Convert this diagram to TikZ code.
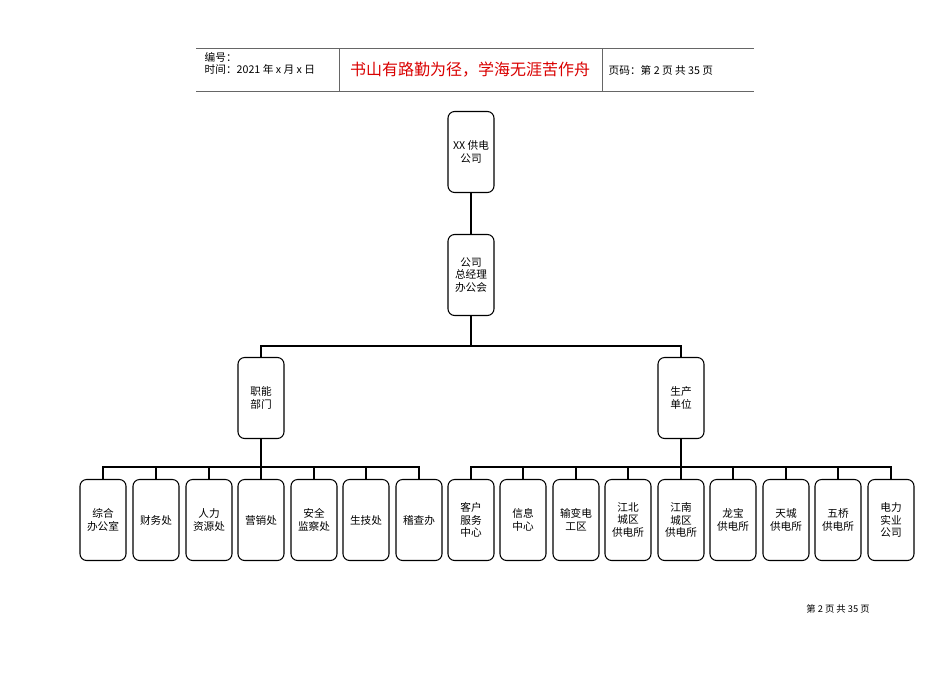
\documentclass[tikz,border=0pt]{standalone}
\usepackage{fontspec}
\setmainfont{Noto Sans CJK SC}
\begin{document}
\begin{tikzpicture}[x=1pt,y=-1pt,
  unit/.style={draw, rounded corners=5pt, minimum width=34.5pt, minimum height=60.75pt,
    inner sep=1pt, align=center, font=\fontsize{8}{9.5}\selectfont, thick},
  link/.style={line width=1.5pt}]
  \useasboundingbox (0,0) rectangle (712.5,504);
  % header
  \draw[gray!80!black] (147,36) -- (565.5,36) (147,68.25) -- (565.5,68.25)
    (254.25,36) -- (254.25,68.25) (451.5,36) -- (451.5,68.25);
  \node[anchor=west, font=\fontsize{8}{9.5}\selectfont, align=left] (bh) at (150,47.5) {编号：\\时间：2021 年 x 月 x 日};
  \node[font=\fontsize{12}{14}\selectfont, text=red!85!black] (motto) at (352.5,52.5) {书山有路勤为径，学海无涯苦作舟};
  \node[anchor=west, font=\fontsize{8}{9.5}\selectfont] (pg) at (453,52.5) {页码：第 2 页 共 35 页};
  \node[font=\fontsize{7}{8}\selectfont] (foot) at (628.5,456.75) {第 2 页 共 35 页};
  % tree
  \node[unit] (top) at (353.25,114) {XX 供电\\公司};
  \node[unit] (gm) at (353.25,206.25) {公司\\总经理\\办公会};
  \node[unit] (zn) at (195.75,298.5) {职能\\部门};
  \node[unit] (sc) at (510.75,298.5) {生产\\单位};
  \draw[link] (top) -- (gm);
  \coordinate (bus) at (353.25,259.5);
  \draw[link] (gm) -- (bus) -| (zn);
  \draw[link] (bus) -| (sc);
  \foreach \name/\x/\txt in {a/77.25/综合\\办公室, b/117/财务处, c/156.75/人力\\资源处,
      d/195.75/营销处, e/235.5/安全\\监察处, f/274.5/生技处, g/314.25/稽查办}{
    \node[unit] (\name) at (\x,390) {\txt};
    \draw[link] (zn.south) -- (195.75,350.25) -| (\name.north);
  }
  \foreach \name/\x/\txt in {h/353.25/客户\\服务\\中心, i/392.25/信息\\中心, j/432/输变电\\工区,
      k/471/江北\\城区\\供电所, l/510.75/江南\\城区\\供电所, m/549.75/龙宝\\供电所,
      n/589.5/天城\\供电所, o/628.5/五桥\\供电所, p/668.25/电力\\实业\\公司}{
    \node[unit] (\name) at (\x,390) {\txt};
    \draw[link] (sc.south) -- (510.75,350.25) -| (\name.north);
  }
\end{tikzpicture}
\end{document}
